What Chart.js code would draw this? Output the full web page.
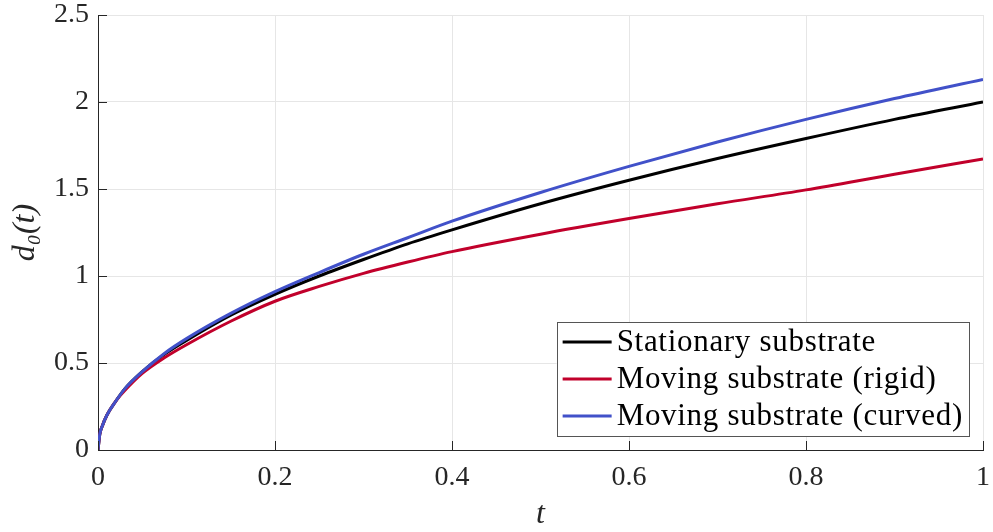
<!DOCTYPE html>
<html>
<head>
<meta charset="utf-8">
<script src="https://cdn.jsdelivr.net/npm/chart.js@4.4.1/dist/chart.umd.min.js"></script>
<style>
  html, body { margin: 0; padding: 0; background: #fff; }
  #wrap { width: 993px; height: 532px; }
</style>
</head>
<body>
<div id="wrap"><canvas id="growth"></canvas></div>
<script>
// Spreading distance d0(t) for three substrate cases
const times = [0, 0.002, 0.005, 0.01, 0.02, 0.03, 0.05, 0.075, 0.1, 0.15, 0.2, 0.25, 0.3, 0.35, 0.4, 0.5, 0.6, 0.7, 0.8, 0.9, 1];
const stationary = [0, 0.09, 0.14, 0.2, 0.28, 0.35, 0.45, 0.55, 0.63, 0.775, 0.895, 1.0, 1.095, 1.185, 1.265, 1.415, 1.55, 1.675, 1.79, 1.9, 2.0];
const movingRigid = [0, 0.09, 0.14, 0.2, 0.28, 0.34, 0.44, 0.53, 0.605, 0.74, 0.855, 0.94, 1.015, 1.08, 1.14, 1.24, 1.33, 1.415, 1.495, 1.585, 1.672];
const movingCurved = [0, 0.09, 0.14, 0.2, 0.28, 0.35, 0.45, 0.555, 0.64, 0.785, 0.91, 1.02, 1.125, 1.22, 1.315, 1.48, 1.63, 1.77, 1.9, 2.02, 2.13];

const seriesNames = ['Stationary substrate', 'Moving substrate (rigid)', 'Moving substrate (curved)'];
const seriesColors = ['#000000', '#c1002b', '#4151c9'];

const xTicks = [0, 0.2, 0.4, 0.6, 0.8, 1];
const yTicks = [0, 0.5, 1, 1.5, 2, 2.5];

const SERIF = '"Liberation Serif", "DejaVu Serif", serif';
const AXIS_COLOR = '#262626';
const GRID_COLOR = '#e6e6e6';

function toPoints(ys) {
  return times.map((t, i) => ({ x: t, y: ys[i] }));
}

// MATLAB-style ticks pointing into the plot area
const innerTicks = {
  id: 'innerTicks',
  afterDatasetsDraw(chart) {
    const { ctx, chartArea, scales } = chart;
    const len = 9;
    ctx.save();
    ctx.strokeStyle = AXIS_COLOR;
    ctx.lineWidth = 1;
    ctx.beginPath();
    xTicks.forEach(v => {
      const px = Math.round(scales.x.getPixelForValue(v)) + 0.5;
      ctx.moveTo(px, chartArea.bottom);
      ctx.lineTo(px, chartArea.bottom - len);
    });
    yTicks.forEach(v => {
      const py = Math.round(scales.y.getPixelForValue(v)) + 0.5;
      ctx.moveTo(chartArea.left, py);
      ctx.lineTo(chartArea.left + len, py);
    });
    ctx.stroke();
    ctx.restore();
  }
};

// boxed legend sitting in the lower right of the axes
const boxLegend = {
  id: 'boxLegend',
  afterDraw(chart) {
    const { ctx, chartArea } = chart;
    const rowH = 37;
    ctx.save();
    ctx.font = '31px ' + SERIF;
    ctx.letterSpacing = '0.7px';
    const textW = Math.max(...seriesNames.map(s => ctx.measureText(s).width));
    const w = 60 + textW + 6;
    const h = rowH * seriesNames.length + 3;
    const right = chartArea.right - 14;
    const bottom = chartArea.bottom - 14;
    const left = right - w;
    const top = bottom - h;
    ctx.fillStyle = '#ffffff';
    ctx.fillRect(left, top, w, h);
    ctx.strokeStyle = '#555555';
    ctx.lineWidth = 1;
    ctx.strokeRect(Math.round(left) + 0.5, Math.round(top) + 0.5, Math.round(w), Math.round(h));
    ctx.textBaseline = 'middle';
    ctx.textAlign = 'left';
    seriesNames.forEach((name, i) => {
      const cy = top + 20 + i * rowH;
      ctx.strokeStyle = seriesColors[i];
      ctx.lineWidth = 3;
      ctx.beginPath();
      ctx.moveTo(left + 6, cy);
      ctx.lineTo(left + 55, cy);
      ctx.stroke();
      ctx.fillStyle = '#000000';
      ctx.fillText(name, left + 60, cy + 1);
    });
    ctx.restore();
  }
};

new Chart(document.getElementById('growth'), {
  type: 'line',
  data: {
    datasets: [
      { label: seriesNames[0], data: toPoints(stationary), borderColor: seriesColors[0], order: 3 },
      { label: seriesNames[1], data: toPoints(movingRigid), borderColor: seriesColors[1], order: 2 },
      { label: seriesNames[2], data: toPoints(movingCurved), borderColor: seriesColors[2], order: 1 }
    ]
  },
  options: {
    responsive: true,
    maintainAspectRatio: false,
    animation: false,
    layout: { padding: { top: 15, right: 10, left: 0, bottom: 0 } },
    elements: {
      line: { borderWidth: 3, cubicInterpolationMode: 'monotone', fill: false },
      point: { radius: 0 }
    },
    plugins: {
      legend: { display: false },
      tooltip: { enabled: false }
    },
    scales: {
      x: {
        type: 'linear',
        min: 0,
        max: 1,
        afterBuildTicks: s => { s.ticks = xTicks.map(v => ({ value: v })); },
        afterFit: s => { s.height = 82; s.paddingLeft = 0; s.paddingRight = 0; },
        ticks: {
          color: AXIS_COLOR,
          font: { family: SERIF, size: 28, lineHeight: 1 },
          padding: 14,
          maxRotation: 0,
          callback: v => String(v)
        },
        grid: { color: GRID_COLOR, drawTicks: false },
        border: { display: true, color: AXIS_COLOR, width: 1 },
        title: {
          display: true,
          text: 't',
          color: AXIS_COLOR,
          font: { family: SERIF, size: 32, style: 'italic', lineHeight: 1.2 },
          padding: { top: 0, bottom: -2 }
        }
      },
      y: {
        type: 'linear',
        min: 0,
        max: 2.5,
        afterBuildTicks: s => { s.ticks = yTicks.map(v => ({ value: v })); },
        afterFit: s => { s.width = 98; s.paddingTop = 0; s.paddingBottom = 0; },
        ticks: {
          color: AXIS_COLOR,
          font: { family: SERIF, size: 28, lineHeight: 1 },
          padding: 9,
          callback: v => String(v)
        },
        grid: { color: GRID_COLOR, drawTicks: false },
        border: { display: true, color: AXIS_COLOR, width: 1 },
        title: {
          display: true,
          text: 'd₀(t)',
          color: AXIS_COLOR,
          font: { family: SERIF, size: 32, style: 'italic', lineHeight: 1.2 },
          padding: { top: 6, bottom: 0 }
        }
      }
    }
  },
  plugins: [innerTicks, boxLegend]
});
</script>
</body>
</html>
